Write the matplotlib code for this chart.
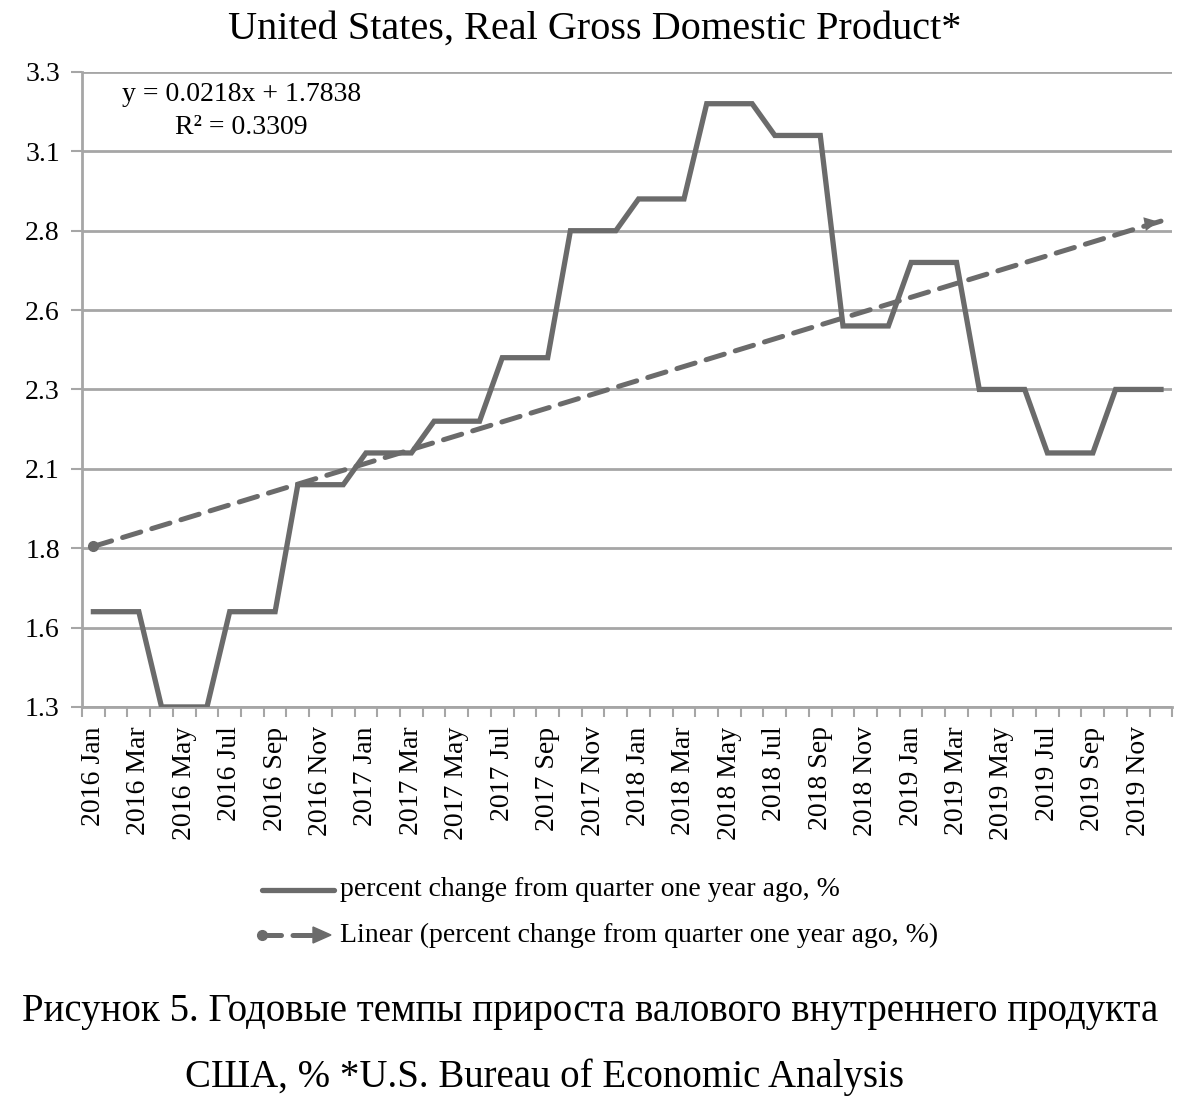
import matplotlib

matplotlib.use("Agg")
import matplotlib.pyplot as plt
from matplotlib.lines import Line2D
import numpy as np

plt.rcParams["font.family"] = ["Liberation Serif", "DejaVu Serif"]

INK = "#000000"
LINE = "#6b6b6b"
GRID = "#a6a6a6"

# quarterly values, each held over three months
QUARTERS = ["2016 Q1", "2016 Q2", "2016 Q3", "2016 Q4",
            "2017 Q1", "2017 Q2", "2017 Q3", "2017 Q4",
            "2018 Q1", "2018 Q2", "2018 Q3", "2018 Q4",
            "2019 Q1", "2019 Q2", "2019 Q3", "2019 Q4"]
QUARTER_VALUES = [1.6, 1.3, 1.6, 2.0,
                  2.1, 2.2, 2.4, 2.8,
                  2.9, 3.2, 3.1, 2.5,
                  2.7, 2.3, 2.1, 2.3]
YEARS = [2016, 2017, 2018, 2019]
MONTHS = ["Jan", "Feb", "Mar", "Apr", "May", "Jun",
          "Jul", "Aug", "Sep", "Oct", "Nov", "Dec"]

# trendline as printed on the chart
SLOPE = 0.0218
INTERCEPT = 1.7838
R2 = 0.3309

Y_TICKS = [1.3, 1.55, 1.8, 2.05, 2.3, 2.55, 2.8, 3.05, 3.3]
Y_LABELS = ["1.3", "1.6", "1.8", "2.1", "2.3", "2.6", "2.8", "3.1", "3.3"]

months = [f"{y} {m}" for y in YEARS for m in MONTHS]
values = np.repeat(QUARTER_VALUES, 3)
idx = np.arange(len(months))
trend = SLOPE * (idx + 1) + INTERCEPT

fig = plt.figure(figsize=(11.89, 11.14), dpi=100)
ax = fig.add_axes([0.069, 0.3654, 0.917, 0.570])

ax.plot(idx, values, color=LINE, lw=3.8, solid_joinstyle="miter", zorder=3)
ax.plot(idx, trend, color=LINE, lw=3.6, dashes=(3.8, 2.3),
        dash_capstyle="round", zorder=4)
ax.plot(idx[0], trend[0], "o", color=LINE, ms=7, zorder=5)
ax.annotate("", xy=(idx[-1], trend[-1]), xytext=(idx[-1] - 0.9, trend[-1] - 0.9 * SLOPE * 0.6),
            arrowprops=dict(arrowstyle="-|>,head_length=1.0,head_width=0.5",
                            color=LINE, lw=0), zorder=5)

ax.set_xlim(-0.5, len(months) - 0.5)
ax.set_ylim(1.3, 3.3)
ax.set_yticks(Y_TICKS)
ax.set_yticklabels(Y_LABELS, fontsize=20)
ax.set_xticks(idx[::2])
ax.set_xticklabels(months[::2], rotation=90, fontsize=20)
ax.set_xticks(np.arange(-0.5, len(months)), minor=True)
ax.tick_params(axis="x", which="major", length=0, pad=14)
ax.tick_params(axis="x", which="minor", length=7, width=1.5, color=GRID)
ax.tick_params(axis="y", length=8, width=1.5, color=GRID, pad=8)
ax.grid(axis="y", color=GRID, lw=2)
ax.set_axisbelow(True)
for s in ["top", "right"]:
    ax.spines[s].set_visible(False)
for s in ["left", "bottom"]:
    ax.spines[s].set_color(GRID)
    ax.spines[s].set_linewidth(2)

ax.text(0.146, 0.984, f"y = {SLOPE}x + {INTERCEPT}\nR² = {R2}", transform=ax.transAxes,
        fontsize=20, ha="center", va="top", linespacing=1.4)

fig.text(0.5, 0.974, "United States, Real Gross Domestic Product*", fontsize=29,
         ha="center", va="center")

# legend drawn by hand to get the dot/arrow ends of the trendline sample
fig.add_artist(Line2D([262 / 1189, 334 / 1189], [1 - 890 / 1114] * 2,
                      color=LINE, lw=3.8, solid_capstyle="round"))
fig.text(340 / 1189, 1 - 890 / 1114, "percent change from quarter one year ago, %",
         fontsize=20, va="center")
fig.add_artist(Line2D([262 / 1189, 312 / 1189], [1 - 935 / 1114] * 2,
                      color=LINE, lw=3.6, dashes=(3.8, 2.3), dash_capstyle="round",
                      marker="o", ms=7, markevery=[0]))
fig.add_artist(plt.Polygon([[313 / 1189, 1 - 927 / 1114], [331 / 1189, 1 - 935 / 1114],
                            [313 / 1189, 1 - 943 / 1114]], closed=True, color=LINE,
                           transform=fig.transFigure))
fig.text(340 / 1189, 1 - 935 / 1114, "Linear (percent change from quarter one year ago, %)",
         fontsize=20, va="center")

fig.text(22 / 1189, 1 - 1012 / 1114,
         "Рисунок 5. Годовые темпы прироста валового внутреннего продукта",
         fontsize=28, va="center")
fig.text(185 / 1189, 1 - 1077 / 1114, "США, % *U.S. Bureau of Economic Analysis",
         fontsize=28, va="center")

fig.savefig("out.png", dpi=100, facecolor="white")
